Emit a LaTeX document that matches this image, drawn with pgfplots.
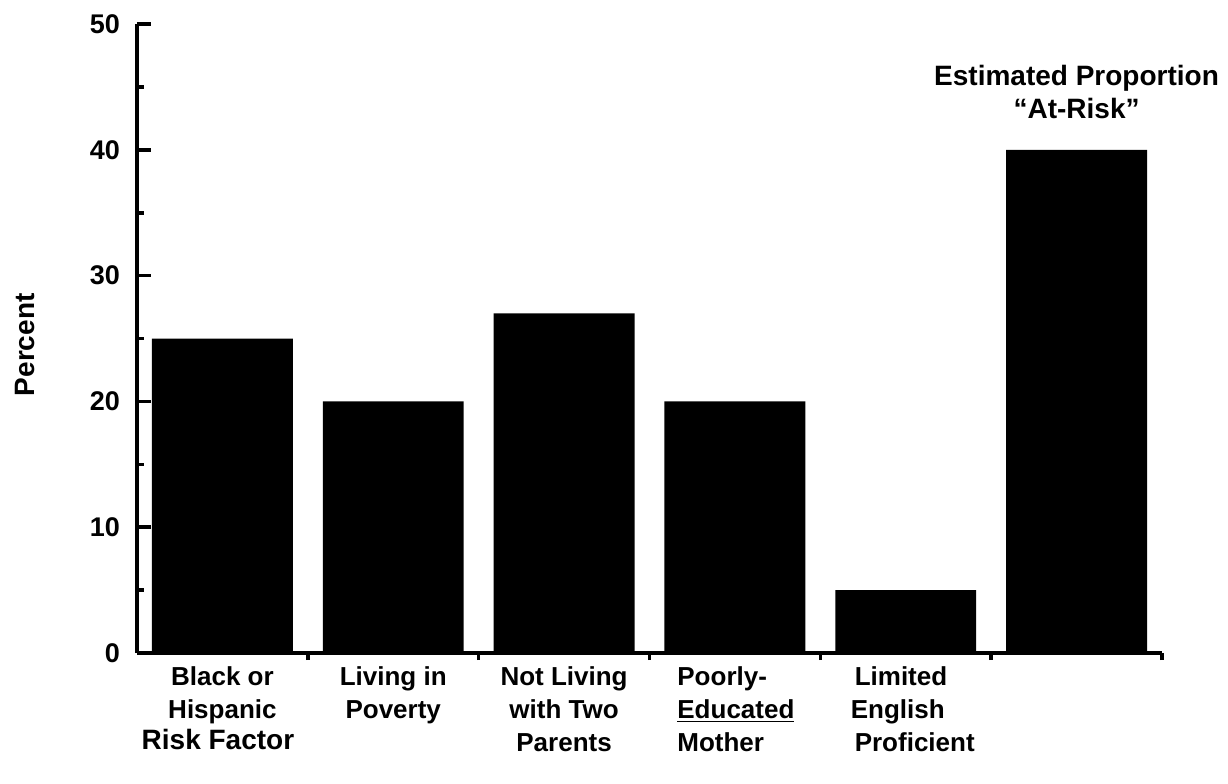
\documentclass[border=0pt]{standalone}
\usepackage{pgfplots}
\pgfplotsset{compat=1.18}
\usepackage{fontspec}
\setmainfont{Liberation Sans}
\begin{document}
\begin{tikzpicture}
\path[use as bounding box] (0,0) rectangle (614pt,391.5pt);
\begin{axis}[
  at={(68.5pt,65pt)}, anchor=south west,
  scale only axis, width=512.5pt, height=314.5pt,
  xmin=-0.5, xmax=5.5, ymin=0, ymax=50,
  axis x line*=bottom, axis y line*=left,
  axis line style={line width=2pt, -},
  ytick={0,10,20,30,40,50},
  minor ytick={5,15,25,35,45},
  ytick align=inside, xtick align=outside,
  major tick length=7pt, minor tick length=3.5pt,
  every tick/.style={line width=1.8pt, black},
  major x tick style={draw=none},
  xtick={0,1,2,3,4,5},
  minor xtick={0.5,1.5,2.5,3.5,4.5,5.5},
  xticklabels={
    {\begin{tabular}{@{}c@{}}Black or\\Hispanic\end{tabular}},
    {\begin{tabular}{@{}c@{}}Living in\\Poverty\end{tabular}},
    {\begin{tabular}{@{}c@{}}Not Living\\with Two\\Parents\end{tabular}},
    {\hspace*{1pt}\begin{tabular}{@{}l@{}}Poorly-\\\underline{Educated}\\Mother\end{tabular}},
    {\hspace*{7pt}\begin{tabular}{@{}l@{}}\hspace*{2pt}Limited\\English\\\hspace*{2pt}Proficient\end{tabular}},
    {}},
  xticklabel style={anchor=north, yshift=2.5pt, inner sep=0pt,
    font=\fontsize{13}{16.5}\selectfont\bfseries},
  yticklabel style={font=\fontsize{13.5}{16}\selectfont\bfseries, xshift=-5pt},
  ylabel={Percent},
  ylabel style={font=\fontsize{14}{16}\selectfont\bfseries,
    at={(axis description cs:-0.1095,0.49)}, anchor=center},
  xlabel={Risk Factor},
  xlabel style={font=\fontsize{14}{16}\selectfont\bfseries,
    at={(axis description cs:0.079,0)}, anchor=center, yshift=-43pt},
  /pgf/number format/assume math mode=true,
  clip=false,
]
\addplot[ybar, bar width=0.825, fill=black, draw=none]
  coordinates {(0,25) (1,20) (2,27) (3,20) (4,5) (5,40)};
\node[align=center, anchor=south, font=\fontsize{14}{16.5}\selectfont\bfseries, yshift=12pt]
  at (axis cs:5,40) {Estimated Proportion\\“At-Risk”};
\end{axis}
\end{tikzpicture}
\end{document}
